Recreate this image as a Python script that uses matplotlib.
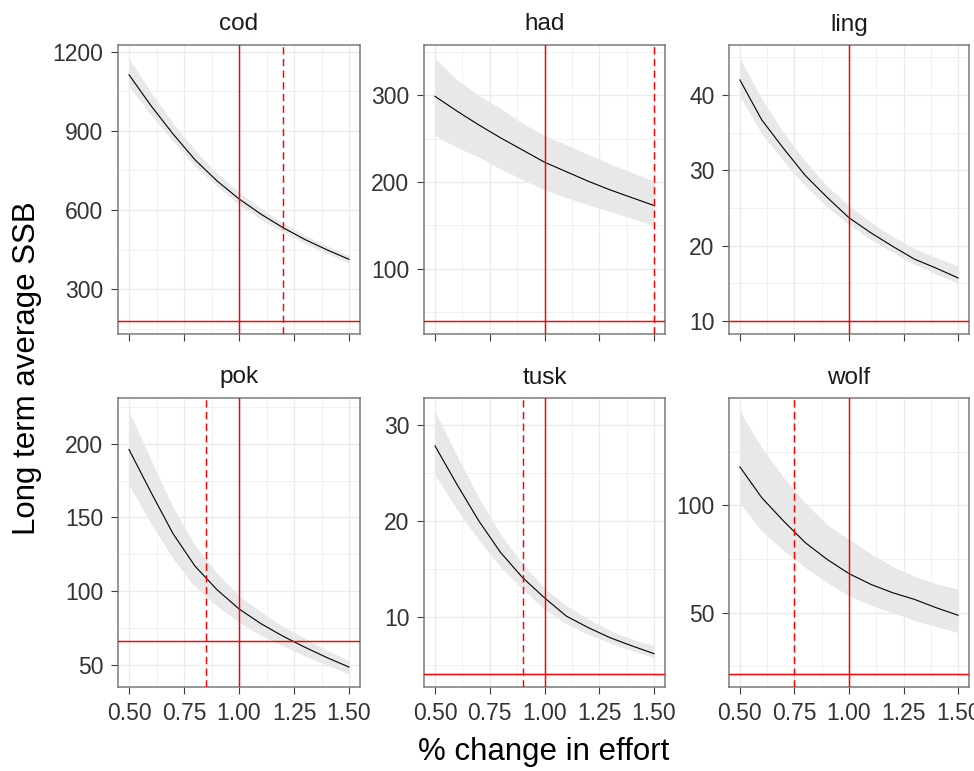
import matplotlib
matplotlib.use("Agg")
import matplotlib.pyplot as plt
from matplotlib.ticker import FixedLocator, AutoMinorLocator

plt.rcParams['font.family'] = ['Liberation Sans', 'DejaVu Sans']

# Effort multiplier (relative to current effort)
effort = [0.5, 0.6, 0.7, 0.8, 0.9, 1.0, 1.1, 1.2, 1.3, 1.4, 1.5]
species = ["cod", "had", "ling", "pok", "tusk", "wolf"]

# Long term average SSB: median and uncertainty band
cod_mid = [1112, 995, 888, 790, 710, 642, 584, 533, 488, 449, 413]
cod_lo = [1068, 960, 860, 766, 690, 620, 565, 516, 473, 436, 399]
cod_hi = [1175, 1045, 930, 826, 740, 668, 605, 552, 504, 464, 426]

had_mid = [299, 282, 266, 251, 237, 223, 212, 201, 191, 182, 173]
had_lo = [254, 240, 229, 215, 203, 191, 182, 174, 166, 158, 150]
had_hi = [343, 318, 300, 285, 268, 254, 243, 232, 221, 211, 201]

ling_mid = [42.0, 36.7, 32.9, 29.3, 26.4, 23.7, 21.7, 19.9, 18.2, 17.0, 15.7]
ling_lo = [39.8, 34.9, 31.2, 27.9, 25.1, 22.8, 20.8, 19.1, 17.5, 16.2, 15.0]
ling_hi = [44.9, 39.5, 35.0, 31.2, 27.9, 25.3, 23.1, 21.2, 19.6, 18.4, 17.3]

pok_mid = [196, 167, 139, 117, 101, 88, 78, 69.5, 62, 55, 48.6]
pok_lo = [172, 146, 122, 103, 90, 79, 70, 63, 56, 50, 44]
pok_hi = [222, 189, 157, 131, 112, 97, 86, 76, 68, 60, 53]

tusk_mid = [27.8, 23.8, 20.0, 16.7, 14.1, 12.0, 10.1, 8.9, 7.85, 7.0, 6.2]
tusk_lo = [24.8, 21.2, 18.0, 15.2, 12.9, 10.8, 9.3, 8.2, 7.3, 6.5, 5.8]
tusk_hi = [31.4, 26.8, 22.4, 18.6, 15.5, 13.0, 11.2, 9.8, 8.6, 7.7, 7.0]

wolf_mid = [117.9, 103.6, 92.7, 82.6, 74.8, 68.2, 63.2, 59.3, 56.2, 52.3, 48.8]
wolf_lo = [101.2, 88, 79, 71, 64, 57.8, 53.5, 50, 46.5, 43.5, 40.7]
wolf_hi = [143.9, 127, 113, 101, 91, 84.2, 77.5, 71.5, 67, 63.5, 60.9]

# Reference points: Blim (horizontal), current effort (solid) and target effort (dashed)
blim = [180, 40, 10, 66.4, 4.1, 21.5]
f_target = [1.2, 1.5, None, 0.85, 0.9, 0.75]
current_effort = 1.0

x_ticks = [0.50, 0.75, 1.00, 1.25, 1.50]
x_tick_labels = ["0.50", "0.75", "1.00", "1.25", "1.50"]
y_ticks = [
    [300, 600, 900, 1200],
    [100, 200, 300],
    [10, 20, 30, 40],
    [50, 100, 150, 200],
    [10, 20, 30],
    [50, 100],
]

mids = [cod_mid, had_mid, ling_mid, pok_mid, tusk_mid, wolf_mid]
lows = [cod_lo, had_lo, ling_lo, pok_lo, tusk_lo, wolf_lo]
highs = [cod_hi, had_hi, ling_hi, pok_hi, tusk_hi, wolf_hi]

W, H = 974, 771
fig = plt.figure(figsize=(W / 100, H / 100), dpi=100)

col_x = [(118, 360), (424, 665), (729, 969)]
row_y = [(45, 334), (398, 687)]

def px_rect(x0, x1, y0, y1):
    return [x0 / W, 1 - y1 / H, (x1 - x0) / W, (y1 - y0) / H]

grid_col = "#ebebeb"
border_col = "#7a7a7a"
tick_col = "#3d3d3d"

for i, name in enumerate(species):
    r, c = divmod(i, 3)
    x0, x1 = col_x[c]
    y0, y1 = row_y[r]
    ax = fig.add_axes(px_rect(x0, x1, y0, y1))

    lo_lim = min(min(lows[i]), blim[i])
    hi_lim = max(max(highs[i]), blim[i])
    pad = 0.05 * (hi_lim - lo_lim)
    ax.set_ylim(lo_lim - pad, hi_lim + pad)
    ax.set_xlim(0.45, 1.55)

    ax.xaxis.set_major_locator(FixedLocator(x_ticks))
    ax.yaxis.set_major_locator(FixedLocator(y_ticks[i]))
    ax.xaxis.set_minor_locator(AutoMinorLocator(2))
    ax.yaxis.set_minor_locator(AutoMinorLocator(2))
    ax.grid(which="major", color=grid_col, lw=1.0, zorder=0)
    ax.grid(which="minor", color=grid_col, lw=0.5, zorder=0)
    ax.set_axisbelow(True)

    ax.fill_between(effort, lows[i], highs[i], color="#e8e8e8", lw=0, zorder=1)
    ax.plot(effort, mids[i], color="black", lw=0.8, zorder=3)

    ax.axhline(blim[i], color="red", lw=1.05, zorder=4)
    ax.axvline(current_effort, color="red", lw=1.05, zorder=4)
    if f_target[i] is not None:
        ax.axvline(f_target[i], color="red", lw=1.05, ls=(0, (5, 3)), zorder=4)

    ax.set_yticklabels([str(v) for v in y_ticks[i]])
    if r == 1:
        ax.set_xticklabels(x_tick_labels)
    else:
        ax.tick_params(axis="x", labelbottom=False)

    ax.tick_params(which="major", length=5, width=0.8, color=tick_col,
                   labelsize=16.5, labelcolor="#333333", pad=5.5)
    ax.tick_params(which="minor", length=0)
    for s in ax.spines.values():
        s.set_color(border_col)
        s.set_linewidth(1.1)

    fig.text((x0 + x1) / 2 / W, 1 - (y0 - 14.5) / H, name, ha="center",
             va="baseline", fontsize=17.5, color="#1a1a1a")

fig.text(543.5 / W, 1 - 760 / H, "% change in effort", ha="center",
         va="baseline", fontsize=22.5, color="black")
fig.text(27 / W, 1 - 368 / H, "Long term average SSB", ha="center",
         va="center", rotation=90, fontsize=22.5, color="black")

fig.savefig("out.png", dpi=100)
